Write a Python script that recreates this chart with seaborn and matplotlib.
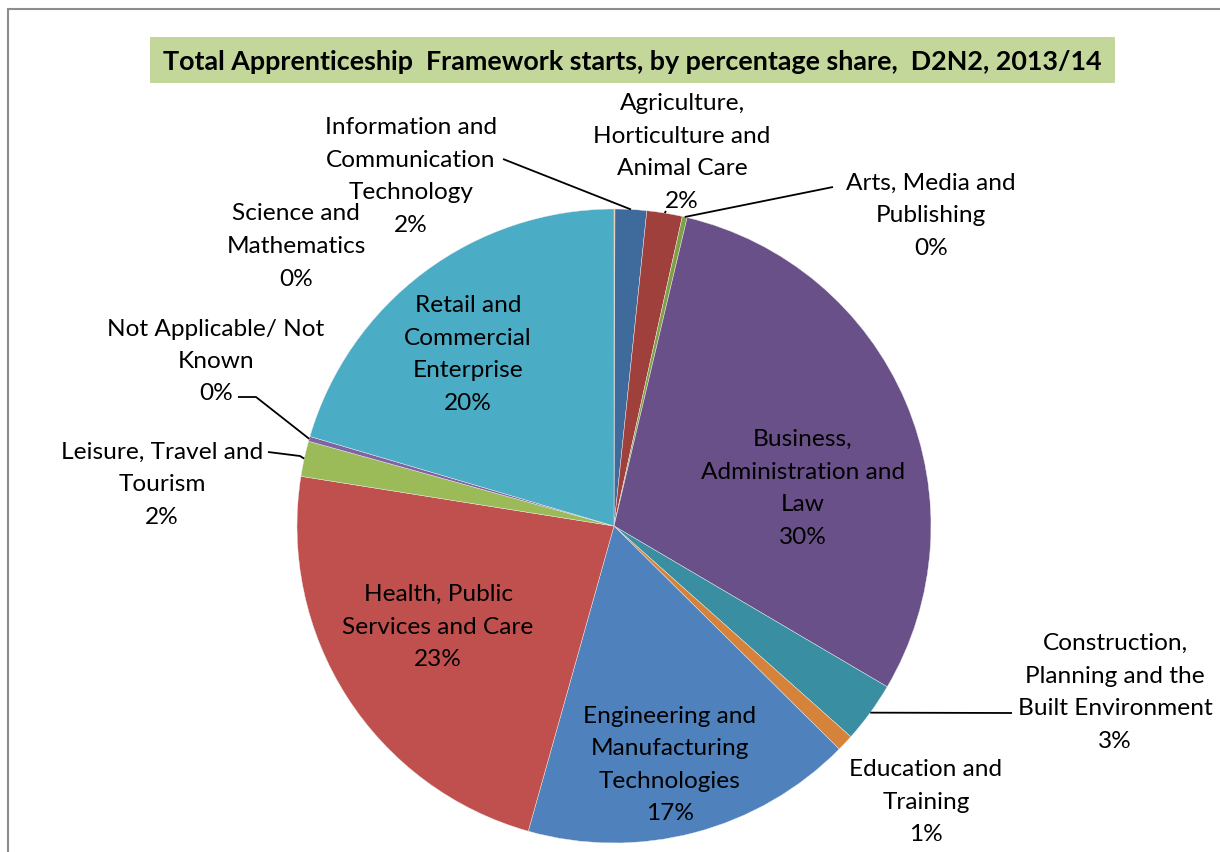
import numpy as np
import matplotlib
matplotlib.use("Agg")
import matplotlib.pyplot as plt
from matplotlib.patches import Rectangle
from matplotlib.lines import Line2D
import seaborn as sns

sns.set_theme(style="white")
plt.rcParams['font.family'] = ['Lato', 'DejaVu Sans']

# Data, clockwise from 12 o'clock
categories = [
    "Science and\nMathematics",
    "Information and\nCommunication\nTechnology",
    "Agriculture,\nHorticulture and\nAnimal Care",
    "Arts, Media and\nPublishing",
    "Business,\nAdministration and\nLaw",
    "Construction,\nPlanning and the\nBuilt Environment",
    "Education and\nTraining",
    "Engineering and\nManufacturing\nTechnologies",
    "Health, Public\nServices and Care",
    "Leisure, Travel and\nTourism",
    "Not Applicable/ Not\nKnown",
    "Retail and\nCommercial\nEnterprise",
]
shares = [0.05, 1.6, 1.8, 0.25, 29.7, 3.1, 0.85, 16.9, 23.1, 1.8, 0.25, 20.4]
colors = ["#F79646", "#3F6A9C", "#A0403D", "#7FA047", "#6A5088", "#3A8EA2",
          "#D5823A", "#4F81BD", "#C0504D", "#9BBB59", "#8064A2", "#4BACC6"]

W, H = 1220, 853
fig = plt.figure(figsize=(W / 100, H / 100), dpi=100)
ax = fig.add_axes([0, 0, 1, 1])
ax.set_xlim(0, W)
ax.set_ylim(0, H)
ax.set_aspect('equal')
ax.axis('off')

def Y(py):
    return H - py

cx, cy, R = 614, 527, 317
wedges, _ = ax.pie(shares, colors=colors, startangle=90, counterclock=False,
                   center=(cx, Y(cy)), radius=R, frame=True,
                   wedgeprops=dict(linewidth=0.3, edgecolor="#eeeeee"))
ax.set_xlim(0, W)
ax.set_ylim(0, H)
ax.axis('off')

labels = [f"{c}\n{round(v):.0f}%" for c, v in zip(categories, shares)]

# label block centres (pixels)
label_pos = [
    (296, 244.5), (411, 174.5), (682, 150.5), (931, 214), (803, 486.5),
    (1115, 690.5), (926, 800.5), (670, 763), (438, 625), (162, 483),
    (216, 359.5), (468, 352.5),
]
fs = 17.6
step = 32.5
for lab, (px, py) in zip(labels, label_pos):
    lines = lab.split("\n")
    n = len(lines)
    for k, line in enumerate(lines):
        ly = py - (n - 1) / 2 * step + k * step
        ax.text(px, Y(ly), line, ha='center', va='center_baseline', fontsize=fs,
                color='black')

def edge_point(i):
    w = wedges[i]
    th = np.deg2rad((w.theta1 + w.theta2) / 2)
    return (cx + R * np.cos(th), Y(cy) + R * np.sin(th))

# leader lines: text-side points (pixels) then wedge edge
leaders = {
    1: [(503, 160)],
    2: [(666, 212)],
    3: [(833, 188)],
    5: [(1012, 714)],
    9: [(268, 453), (300, 457)],
    10: [(238, 398), (256, 398)],
}
for i, pts in leaders.items():
    xs = [p[0] for p in pts]
    ys = [Y(p[1]) for p in pts]
    ex, ey = edge_point(i)
    xs.append(ex)
    ys.append(ey)
    ax.plot(xs, ys, color='black', lw=1.3, solid_capstyle='butt')

# title with green band
fig.add_artist(Rectangle((150 / W, 1 - 84 / H), (1115 - 150) / W, (84 - 38) / H,
                         transform=fig.transFigure, facecolor="#C4D79B",
                         edgecolor='none', zorder=0))
fig.text(632 / W, 1 - 62 / H,
         "Total Apprenticeship  Framework starts, by percentage share,  D2N2, 2013/14",
         ha='center', va='center', fontsize=19.4, fontweight='bold', color='black')

# chart frame
fig.add_artist(Line2D([8 / W, 8 / W], [0, 1 - 10 / H], transform=fig.transFigure,
                      color="#8c8c8c", lw=1.5))
fig.add_artist(Line2D([8 / W, 1], [1 - 10 / H, 1 - 10 / H], transform=fig.transFigure,
                      color="#8c8c8c", lw=1.5))

fig.savefig("out.png", dpi=100)
